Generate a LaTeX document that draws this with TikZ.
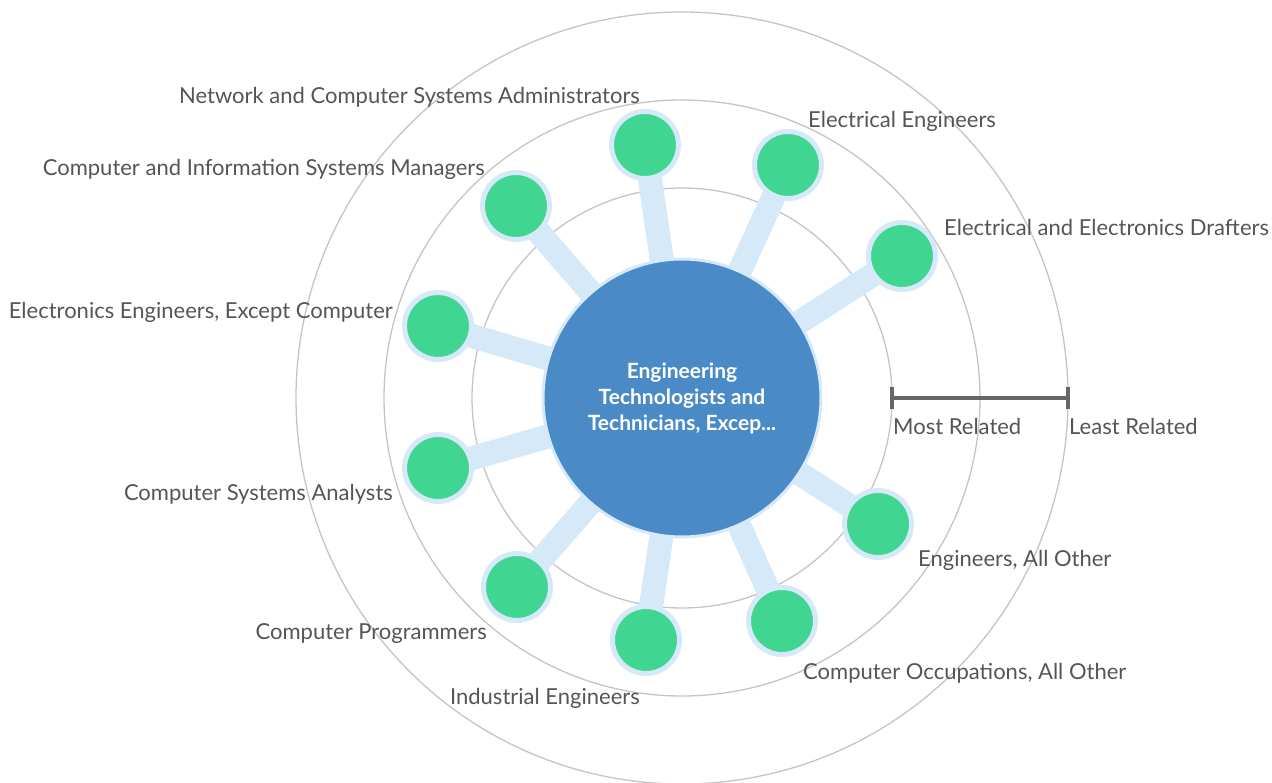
\documentclass[tikz,border=0pt]{standalone}
\usepackage{fontspec}
\setmainfont{Lato}
\begin{document}
\begin{tikzpicture}[x=1pt,y=-1pt,
  ring/.style={draw=ringgray,line width=1.3pt},
  spoke/.style={draw=spokeblue,line width=24pt},
  leaf/.style={circle,fill=leafgreen,draw=spokeblue,line width=5pt,minimum size=67pt,inner sep=0pt},
  hub/.style={circle,fill=hubblue,draw=spokeblue,line width=3pt,minimum size=278pt,inner sep=0pt,
    text=white,font=\fontsize{21}{26}\selectfont\bfseries,align=center},
  lab/.style={text=labgray,font=\fontsize{22}{26}\selectfont,inner sep=0pt},
  scalebar/.style={draw=bargray,line width=4pt}]
\definecolor{ringgray}{HTML}{C4C4C4}
\definecolor{spokeblue}{HTML}{D6E9F8}
\definecolor{leafgreen}{HTML}{41D592}
\definecolor{hubblue}{HTML}{4A8BC7}
\definecolor{labgray}{HTML}{555555}
\definecolor{bargray}{HTML}{666666}
\useasboundingbox (0,0) rectangle (1272,783);
\coordinate (c) at (682,398);
\draw[ring] (c) circle[radius=210];
\draw[ring] (c) circle[radius=298];
\draw[ring] (c) circle[radius=386];
% leaf positions
\coordinate (p1) at (645,145);
\coordinate (p2) at (788,165);
\coordinate (p3) at (902,256);
\coordinate (p4) at (516,206);
\coordinate (p5) at (438,326);
\coordinate (p6) at (438,468);
\coordinate (p7) at (517,587);
\coordinate (p8) at (646,640);
\coordinate (p9) at (782,621);
\coordinate (p10) at (878,524);
\foreach \i in {1,...,10} \draw[spoke] (c) -- (p\i);
\node[hub] (hub) at (c) {Engineering\\Technologists and\\Technicians, Excep...};
\foreach \i in {1,...,10} \node[leaf] (n\i) at (p\i) {};
% labels
\node[lab,anchor=mid east] (l1) at (640,101) {Network and Computer Systems Administrators};
\node[lab,anchor=mid west] (l2) at (808,125) {Electrical Engineers};
\node[lab,anchor=mid west] (l3) at (944,233) {Electrical and Electronics Drafters};
\node[lab,anchor=mid east] (l4) at (485,173) {Computer and Information Systems Managers};
\node[lab,anchor=mid east] (l5) at (393,316) {Electronics Engineers, Except Computer};
\node[lab,anchor=mid east] (l6) at (393,498) {Computer Systems Analysts};
\node[lab,anchor=mid east] (l7) at (487,637) {Computer Programmers};
\node[lab,anchor=mid east] (l8) at (640,702) {Industrial Engineers};
\node[lab,anchor=mid west] (l9) at (803,677) {Computer Occupations, All Other};
\node[lab,anchor=mid west] (l10) at (918,564) {Engineers, All Other};
% scale
\coordinate (s1) at (892,398);
\coordinate (s2) at (1068,398);
\draw[scalebar] (s1) -- (s2);
\draw[scalebar] ([yshift=-11pt]s1) -- ([yshift=11pt]s1);
\draw[scalebar] ([yshift=-11pt]s2) -- ([yshift=11pt]s2);
\node[lab,anchor=mid west] (most) at (893,432) {Most Related};
\node[lab,anchor=mid west] (least) at (1069,432) {Least Related};
\end{tikzpicture}
\end{document}
